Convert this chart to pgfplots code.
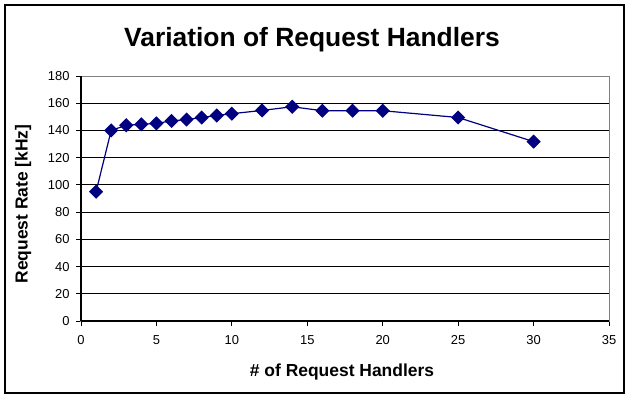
\documentclass[border=0pt]{standalone}
\usepackage{pgfplots}
\pgfplotsset{compat=1.18}
\usepackage{fontspec}
\setmainfont{Liberation Sans}
\definecolor{navy}{RGB}{0,0,128}
\begin{document}
\begin{tikzpicture}[x=1bp,y=1bp]
\path (-81,-73) rectangle (544,321);
\draw[line width=1.2bp,black] (-76,-72) rectangle (543,316);
\begin{axis}[
  at={(0,0)}, anchor=south west,
  scale only axis, width=528bp, height=245bp,
  xmin=0, xmax=35, ymin=0, ymax=180,
  xtick={0,5,...,35}, ytick={0,20,...,180},
  tick pos=left, tick align=outside, major tick length=5bp,
  tick style={black, line width=0.8bp},
  ymajorgrids, grid style={black, line width=0.9bp},
  axis line style={gray, line width=1bp},
  /pgf/number format/assume math mode=true,
  tick label style={font=\fontsize{13}{15}\selectfont},
  yticklabel style={xshift=-3bp},
  xticklabel style={yshift=-6bp},
  clip=false,
]
\draw[black, line width=1.2bp] (rel axis cs:0,0) -- (rel axis cs:1,0);
\draw[black, line width=1.2bp] (rel axis cs:0,0) -- (rel axis cs:0,1);
\addplot[navy, line width=1.2bp, mark=square*, mark size=4.4bp, mark options={rotate=45, fill=navy, draw=navy}] coordinates {
(1,95) (2,140) (3,143.8) (4,144.5) (5,145.2) (6,147) (7,148) (8,149.5) (9,151) (10,152.3) (12,154.7) (14,157.4) (16,154.5) (18,154.5) (20,154.5) (25,149.5) (30,131.8)
};
\end{axis}
\node[font=\fontsize{26.5}{30}\selectfont\bfseries] at (231,281) {Variation of Request Handlers};
\node[font=\fontsize{17.5}{20}\selectfont\bfseries] at (261,-51) {\# of Request Handlers};
\node[font=\fontsize{17.5}{20}\selectfont\bfseries, rotate=90] at (-58,117) {Request Rate [kHz]};
\end{tikzpicture}
\end{document}
